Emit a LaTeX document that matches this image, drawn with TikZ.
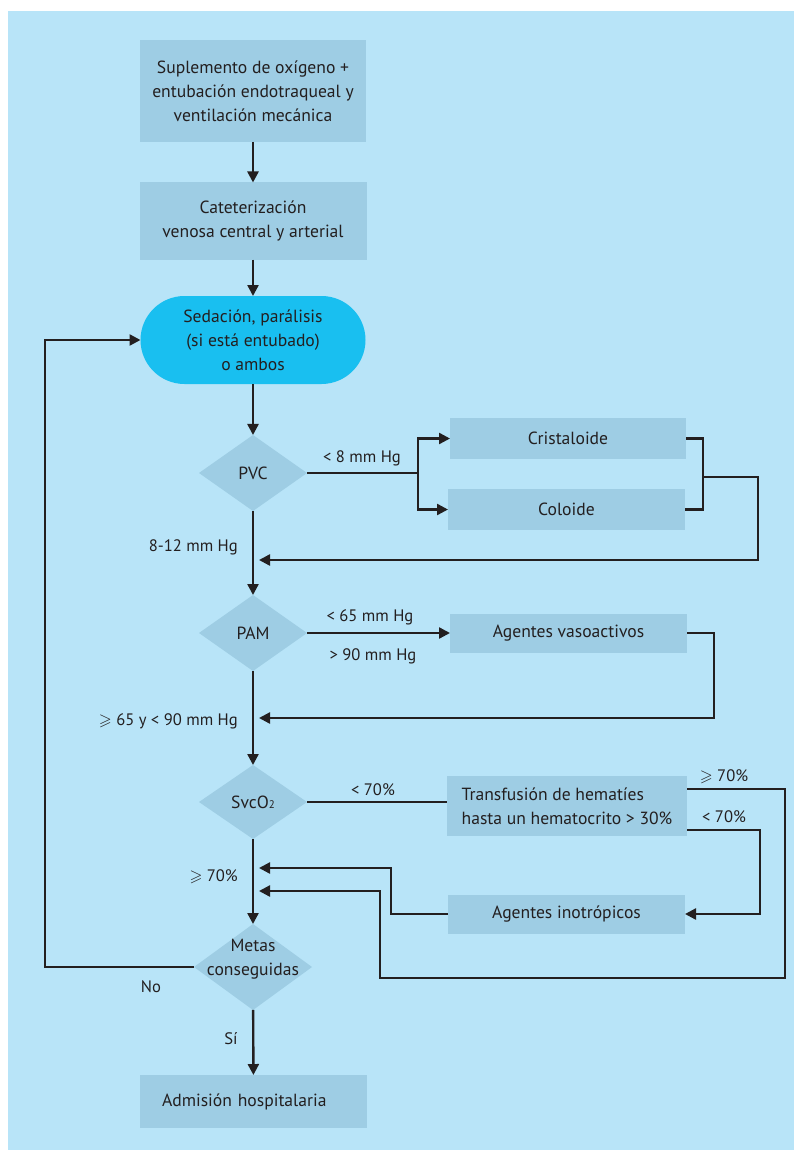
\documentclass[tikz,border=0pt]{standalone}
\usepackage{fontspec}
\usepackage{amssymb}
\setmainfont{PT Sans}
\usetikzlibrary{arrows.meta,shapes.geometric}
\definecolor{bgblue}{RGB}{184,228,248}
\definecolor{boxblue}{RGB}{158,205,228}
\definecolor{cyanfill}{RGB}{25,191,240}
\definecolor{ink}{RGB}{35,31,32}

\begin{document}
\begin{tikzpicture}[x=1pt,y=-1pt,
  font=\fontsize{17.6}{23.8}\selectfont, text=ink,
  box/.style={fill=boxblue, inner sep=0pt, outer sep=0pt, align=center},
  dia/.style={diamond, fill=boxblue, inner sep=0pt, outer sep=0pt},
  line/.style={draw=ink, line width=2.4pt},
  flow/.style={line, -{Triangle[length=11pt,width=11pt]}},
  lbl/.style={inner sep=0pt, font=\fontsize{16.6}{20}\selectfont}]

% page and background panel
\useasboundingbox (0,0) rectangle (794,1150);
\fill[bgblue] (8,11) rectangle (794,1150);

% main column
\node[box, minimum width=226pt, minimum height=102pt] (oxi) at (253,91)
  {Suplemento de oxígeno +\\entubación endotraqueal y\\ventilación mecánica};
\node[box, minimum width=227pt, minimum height=77pt] (cat) at (253,221)
  {Cateterización\\venosa central y arterial};
\node[box, fill=cyanfill, rounded corners=44pt, minimum width=225pt, minimum height=88pt] (sed) at (253,340)
  {Sedación, parálisis\\(si está entubado)\\o ambos};
\node[dia, minimum width=108pt, minimum height=76pt] (pvc) at (253,473) {PVC};
\node[dia, minimum width=108pt, minimum height=76pt] (pam) at (253,633) {PAM};
\node[dia, minimum width=108pt, minimum height=74pt] (svc) at (253,802)
  {SvcO{\fontsize{11}{11}\selectfont 2}};
\node[dia, minimum width=118pt, minimum height=86pt] (metas) at (253,967) {};
\node[inner sep=0pt, align=center] (metasT) at (253,959) {Metas\\conseguidas};
\node[box, minimum width=227pt, minimum height=53pt, text width=183pt, align=left] (adm) at (253.5,1101.5)
  {Admisión hospitalaria};

% treatment boxes
\node[box, minimum width=236pt, minimum height=41pt] (cri) at (568,438.5) {Cristaloide};
\node[box, minimum width=237pt, minimum height=41pt] (col) at (566.5,509.5) {Coloide};
\node[box, minimum width=237pt, minimum height=39pt] (vas) at (568.5,633) {Agentes vasoactivos};
\node[box, minimum width=240pt, minimum height=60pt, align=left] (tra) at (567,806)
  {Transfusión de hematíes\\hasta un hematocrito > 30\%};
\node[box, minimum width=237pt, minimum height=39pt] (ino) at (566.5,914) {Agentes inotrópicos};

% junction points
\coordinate (split) at (418,473);
\coordinate (brk) at (703,477);
\coordinate (pvcret) at (259,560);
\coordinate (pamret) at (259,718);
\coordinate (ret1) at (259,868);
\coordinate (ret2) at (259,891);
\coordinate (loopR) at (785,978);
\coordinate (loopL) at (380,978);

% vertical flow
\draw[flow] (oxi) -- (cat);
\draw[flow] (cat) -- (sed);
\draw[flow] (sed) -- (pvc);
\draw[flow] (pvc) -- (pam);
\draw[flow] (pam) -- (svc);
\draw[flow] (svc) -- (metas);
\draw[flow] (metas) -- (adm);

% PVC branch
\draw[line] (pvc.east) -- (split);
\draw[flow] (split) |- (cri.west);
\draw[flow] (split) |- (col.west);
\draw[line] (cri.east) -| (brk) |- (col.east);
\draw[flow] (brk) -- ++(55,0) |- (pvcret);

% PAM branch
\draw[flow] (pam.east) -- (vas.west);
\draw[flow] (vas.east) -- ++(27,0) |- (pamret);

% SvcO2 branch
\draw[line] (svc.east) -- (svc.east -| tra.west);
\draw[flow] ([yshift=17pt]tra.east) -| (loopR) -- (loopL) |- (ret2);
\draw[flow] ([yshift=-24pt]tra.east) -- ++(73,0) |- (ino.east);
\draw[flow] (ino.west) -- ++(-57,0) |- (ret1);

% loop back when goals are not met
\draw[flow] (metas.west) -- ++(-149,0) |- (sed.west);

% labels
\node[lbl] (l8) at (362,458) {< 8 mm Hg};
\node[lbl, anchor=east] (l812) at (238,547) {8-12 mm Hg};
\node[lbl] (l65) at (370,617) {< 65 mm Hg};
\node[lbl] (l90) at (373,656) {> 90 mm Hg};
\node[lbl, anchor=east] (l6590) at (238,721) {$\geqslant$ 65 y < 90 mm Hg};
\node[lbl] (l70a) at (373,790) {< 70\%};
\node[lbl] (l70b) at (724,777) {$\geqslant$ 70\%};
\node[lbl] (l70c) at (724,817) {< 70\%};
\node[lbl, anchor=east] (l70d) at (238,877) {$\geqslant$ 70\%};
\node[lbl] (lno) at (151,987) {No};
\node[lbl] (lsi) at (231,1039) {Sí};
\end{tikzpicture}
\end{document}
